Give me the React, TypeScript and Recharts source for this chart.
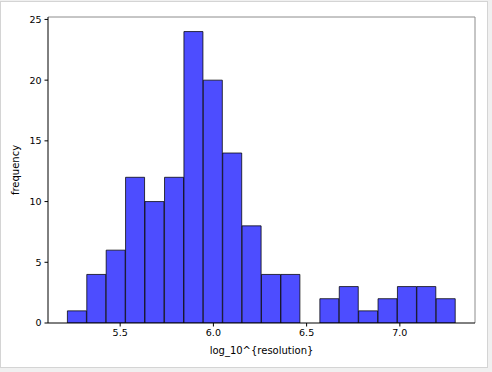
import { ComposedChart, Bar, XAxis, YAxis, ReferenceLine } from "recharts";

// histogram bin centres (log10 of resolution) and counts
const binCenters = [
  5.269, 5.373, 5.477, 5.581, 5.685, 5.79, 5.894, 5.998, 6.102, 6.206,
  6.31, 6.414, 6.518, 6.623, 6.727, 6.831, 6.935, 7.039, 7.143, 7.247,
];
const counts = [1, 4, 6, 12, 10, 12, 24, 20, 14, 8, 4, 4, 0, 2, 3, 1, 2, 3, 3, 2];
const xTicks = [5.5, 6.0, 6.5, 7.0];
const yTicks = [0, 5, 10, 15, 20, 25];
const xDomain = [5.113, 7.403];
const yDomain = [0, 25.2];

const data = binCenters.map((x, i) => ({ x, count: counts[i] }));

const tickFont = { fontFamily: "DejaVu Sans", fontSize: 9.5, fill: "#000" };
const labelFont = { fontFamily: "DejaVu Sans", fontSize: 10, fill: "#000" };

export default function App() {
  return (
    <div style={{ position: "relative", width: 492, height: 372, background: "#f0f0f0" }}>
      <style>{`body { margin: 0; }`}</style>
      <div
        style={{
          position: "absolute",
          left: 0,
          top: 1,
          width: 486,
          height: 365,
          background: "#fff",
          border: "1px solid #d4d4d4",
        }}
      />
      <div style={{ position: "absolute", left: 0, top: 0 }}>
        <ComposedChart
          width={492}
          height={372}
          data={data}
          margin={{ top: 17, right: 17, bottom: 0, left: 0 }}
          barCategoryGap={0}
          barGap={0}
        >
          <XAxis
            dataKey="x"
            type="number"
            domain={xDomain}
            ticks={xTicks}
            tickFormatter={(v: number) => v.toFixed(1)}
            allowDataOverflow
            height={49}
            tickSize={3.5}
            tickMargin={3}
            stroke="#000"
            tick={tickFont}
            tickLine={{ stroke: "#000" }}
            label={{
              value: "log_10^{resolution}",
              position: "insideBottom",
              offset: 18.5,
              style: labelFont,
            }}
          />
          <YAxis
            type="number"
            domain={yDomain}
            ticks={yTicks}
            allowDataOverflow
            width={48}
            tickSize={3.5}
            tickMargin={3}
            stroke="#000"
            tick={tickFont}
            tickLine={{ stroke: "#000" }}
            label={{
              value: "frequency",
              angle: -90,
              position: "insideLeft",
              offset: 15,
              style: { ...labelFont, textAnchor: "middle" },
            }}
          />
          <ReferenceLine y={yDomain[1]} stroke="#8c8c8c" strokeWidth={1} />
          <ReferenceLine x={xDomain[1]} stroke="#8c8c8c" strokeWidth={1} />
          <Bar
            dataKey="count"
            fill="#4d4dff"
            stroke="#000"
            strokeOpacity={0.75}
            strokeWidth={1}
            isAnimationActive={false}
          />
        </ComposedChart>
      </div>
    </div>
  );
}
